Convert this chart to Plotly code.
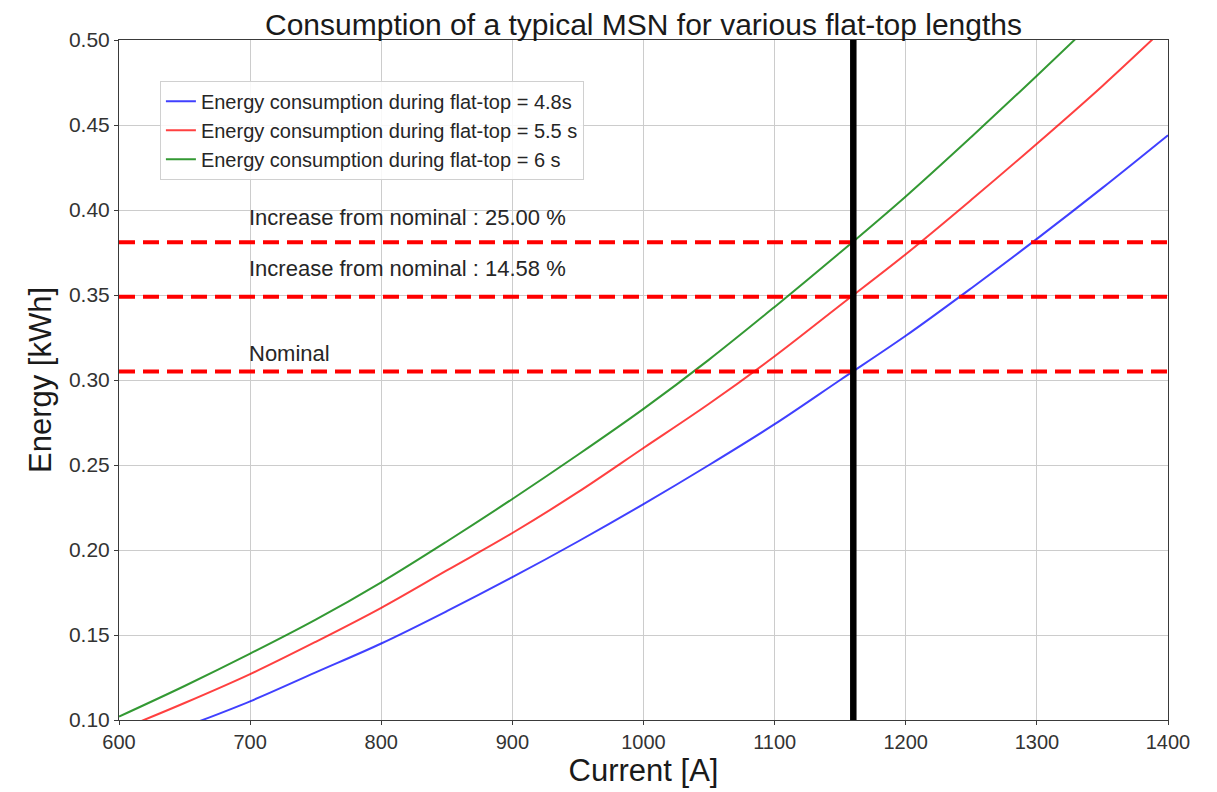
import plotly.graph_objects as go

# Data
current = [600, 650, 700, 750, 800, 850, 900, 950, 1000, 1050, 1100, 1150, 1200, 1250, 1300, 1350, 1400]
energy_4_8s = [0.082, 0.096, 0.111, 0.128, 0.145, 0.164, 0.184, 0.205, 0.227, 0.250, 0.274, 0.300, 0.326, 0.354, 0.383, 0.413, 0.444]
energy_5_5s = [0.094, 0.110, 0.127, 0.146, 0.166, 0.188, 0.210, 0.234, 0.260, 0.286, 0.314, 0.344, 0.374, 0.406, 0.439, 0.473, 0.509]
energy_6s = [0.102, 0.120, 0.139, 0.159, 0.181, 0.205, 0.230, 0.256, 0.283, 0.312, 0.343, 0.375, 0.408, 0.443, 0.479, 0.516, 0.555]

series_names = [
    "Energy consumption during flat-top = 4.8s",
    "Energy consumption during flat-top = 5.5 s",
    "Energy consumption during flat-top = 6 s",
]
series_colors = ["rgba(0,0,255,0.75)", "rgba(255,0,0,0.75)", "rgba(0,128,0,0.8)"]

nominal_current = 1160
level_values = [0.305, 0.349, 0.381]
level_labels = ["Nominal", "Increase from nominal : 14.58 %", "Increase from nominal : 25.00 %"]
label_y = [0.31, 0.36, 0.39]
label_x = 700

x_ticks = [600, 700, 800, 900, 1000, 1100, 1200, 1300, 1400]
y_ticks = [0.10, 0.15, 0.20, 0.25, 0.30, 0.35, 0.40, 0.45, 0.50]

FONT = "Liberation Sans, Arial, sans-serif"
W, H = 1209, 784

fig = go.Figure()
for name, ys, col in zip(series_names, [energy_4_8s, energy_5_5s, energy_6s], series_colors):
    fig.add_trace(go.Scatter(x=current, y=ys, mode="lines", name=name,
                             line=dict(color=col, width=2, shape="spline", smoothing=1.0)))

for v in level_values:
    fig.add_trace(go.Scatter(x=[x_ticks[0], x_ticks[-1]], y=[v, v], mode="lines", showlegend=False,
                             line=dict(color="red", width=4, dash="16px,8px"), hoverinfo="skip"))

fig.add_trace(go.Scatter(x=[nominal_current, nominal_current], y=[y_ticks[0], y_ticks[-1]], mode="lines",
                         showlegend=False, line=dict(color="black", width=6.5), hoverinfo="skip"))

for txt, yv in zip(level_labels, label_y):
    fig.add_annotation(x=label_x, y=yv, text=txt, showarrow=False, xanchor="left", yanchor="bottom",
                       font=dict(family=FONT, size=22, color="#262626"), xshift=-3, yshift=-5)

axis_common = dict(showline=True, linecolor="#3a3a3a", linewidth=1, mirror=True,
                   showgrid=True, gridcolor="#cccccc", gridwidth=1, zeroline=False,
                   ticks="outside", ticklen=4, tickcolor="#3a3a3a")

fig.update_layout(
    width=W, height=H,
    margin=dict(l=111, r=49, t=32, b=72),
    paper_bgcolor="white", plot_bgcolor="white",
    title=dict(text="Consumption of a typical MSN for various flat-top lengths",
               x=(111 + (W - 49)) / 2 / W, xanchor="center", y=1 - 16 / H, yanchor="middle",
               font=dict(family=FONT, size=30, color="#1a1a1a")),
    xaxis=dict(range=[600, 1400], tickvals=x_ticks,
               tickfont=dict(family=FONT, size=20, color="#333333"),
               title=dict(text="Current [A]", font=dict(family=FONT, size=31, color="#1a1a1a"), standoff=6),
               **axis_common),
    yaxis=dict(range=[0.10, 0.50], tickvals=y_ticks, tickformat=".2f",
               tickfont=dict(family=FONT, size=21, color="#333333"),
               title=dict(text="Energy [kWh]", font=dict(family=FONT, size=31, color="#1a1a1a"), standoff=8),
               **axis_common),
    legend=dict(x=0.039, y=0.94, xanchor="left", yanchor="top",
                bgcolor="rgba(255,255,255,0.85)", bordercolor="#d0d0d0", borderwidth=1,
                font=dict(family=FONT, size=20, color="#262626"), tracegroupgap=2),
    showlegend=True,
)

fig.write_html("out.html")
